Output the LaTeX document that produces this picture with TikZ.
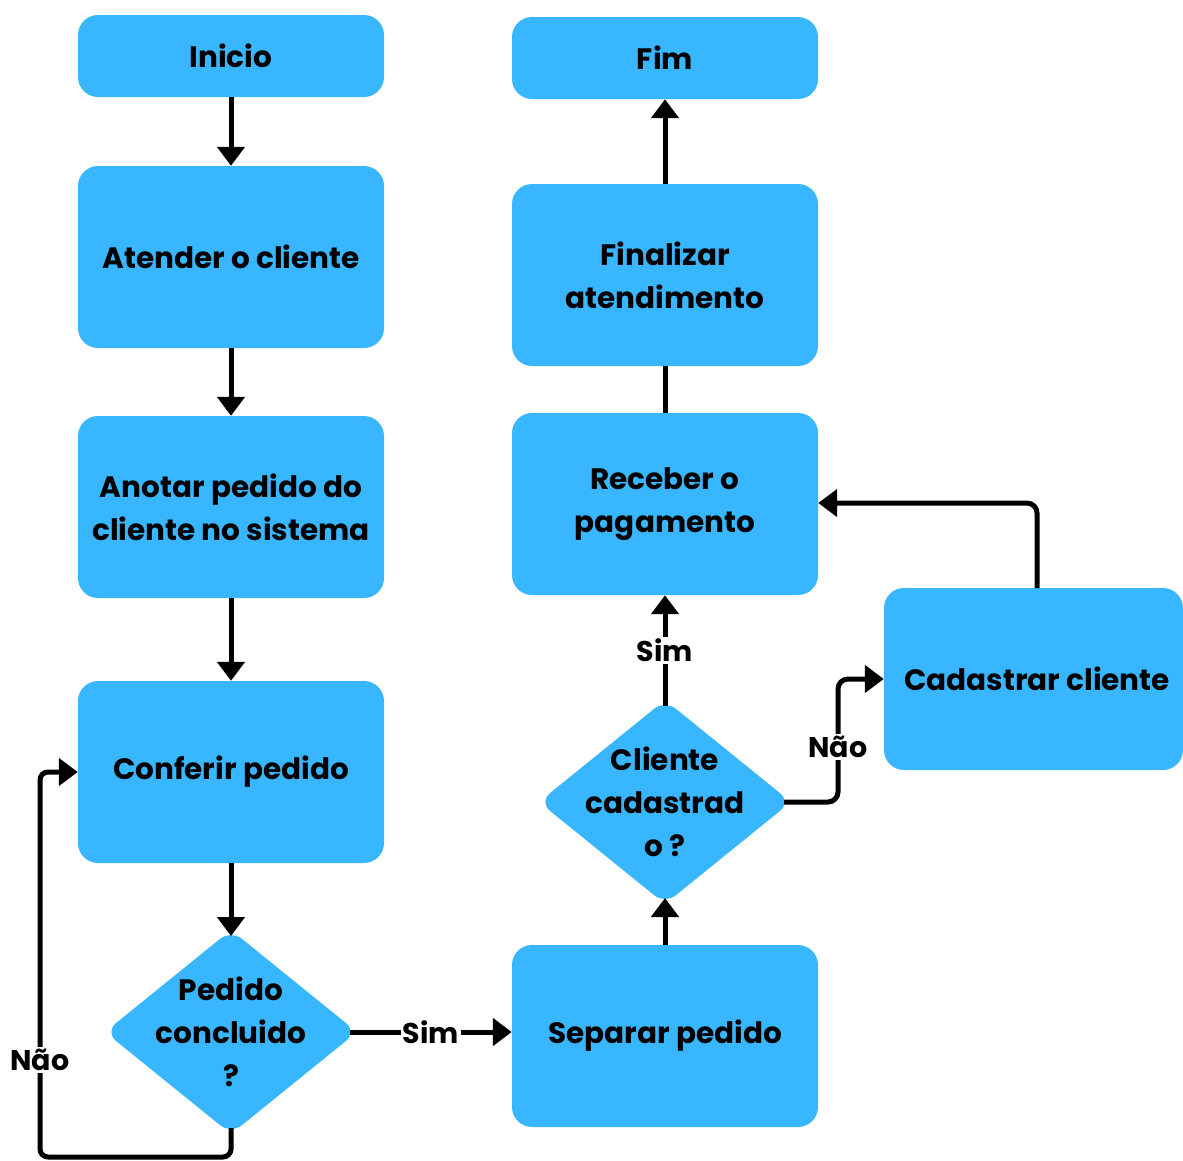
\documentclass[tikz,border=0pt]{standalone}
\usepackage{fontspec}
\setmainfont{Poppins}
\usetikzlibrary{arrows.meta,shapes.geometric,calc}
\definecolor{boxblue}{HTML}{38B6FF}
\tikzset{
  stepbox/.style={rectangle, rounded corners=20pt, fill=boxblue, minimum width=306pt,
    minimum height=182pt, inner sep=0pt, align=center},
  endbox/.style={stepbox, minimum height=82pt},
  decision/.style={diamond, minimum width=238pt, minimum height=192pt, inner sep=0pt, outer sep=0pt},
  decfill/.style={fill=boxblue, rounded corners=14pt},
  txt/.style={align=center, font=\fontsize{29.5}{43}\selectfont\bfseries},
  flow/.style={line width=5pt, -{Triangle[width=27pt,length=19pt]}},
  plain/.style={line width=5pt},
  lbl/.style={fill=white, inner sep=2pt, font=\fontsize{28.5}{32}\selectfont\bfseries}
}
\newcommand{\filldecision}[1]{%
  \fill[decfill] ($(#1.north)+(0,-6)$) -- ($(#1.east)+(7,0)$) --
    ($(#1.south)+(0,6)$) -- ($(#1.west)+(-7,0)$) -- cycle;}
\begin{document}
\begin{tikzpicture}[x=1pt,y=-1pt]
\useasboundingbox (0,0) rectangle (1183,1160);

% process boxes
\node[endbox]  (inicio)   at (231,56)   {};
\node[txt] at (inicio) {Inicio};
\node[stepbox] (atender)  at (231,257)  {};
\node[txt] at (atender) {Atender o cliente};
\node[stepbox] (anotar)   at (231,507)  {};
\node[txt] at (anotar) {Anotar pedido do\\cliente no sistema};
\node[stepbox] (conferir) at (231,772)  {};
\node[txt] at (conferir) {Conferir pedido};
\node[decision] (pedido)  at (231,1032) {};
\filldecision{pedido}
\node[txt] at (pedido) {Pedido\\concluido\\?};

\node[stepbox] (separar)  at (665,1036) {};
\node[txt] at (separar) {Separar pedido};
\node[decision] (clcad)   at (665,802)  {};
\filldecision{clcad}
\node[txt] at (clcad) {Cliente\\cadastrad\\o ?};
\node[stepbox, minimum width=299pt] (cadastrar) at (1033.5,679) {};
\node[txt] at (1037,679) {Cadastrar cliente};
\node[stepbox] (receber)  at (665,504)  {};
\node[txt] at (receber) {Receber o\\pagamento};
\node[stepbox] (finalizar) at (665,275) {};
\node[txt] at (finalizar) {Finalizar\\atendimento};
\node[endbox]  (fim)      at (665,58)   {};
\node[txt] at (fim) {Fim};

% main sequence
\draw[flow] (inicio.south) -- (atender.north);
\draw[flow] (atender.south) -- (anotar.north);
\draw[flow] (anotar.south) -- (conferir.north);
\draw[flow] (conferir.south) -- (pedido.north);
\draw[flow] (pedido.east) -- node[lbl]{Sim} (separar.west |- pedido.east);

% loop back when the order is not complete
\coordinate (loopA) at (231,1157);
\coordinate (loopB) at (40,1157);
\coordinate (loopC) at (40,772);
\draw[flow, rounded corners=8pt] (pedido.south) -- (loopA) -- (loopB) -- (loopC) -- (conferir.west);
\node[lbl] at (40,1060) {Não};

\draw[flow] (separar.north) -- (clcad.south);
\draw[flow] (clcad.north) -- node[lbl, pos=0.5]{Sim} (receber.south);

% register a new client
\coordinate (nA) at (838,802);
\coordinate (nB) at (838,679);
\draw[flow, rounded corners=10pt] (clcad.east) -- (nA) -- (nB) -- (cadastrar.west);
\node[lbl] at (838,747) {Não};

\coordinate (cA) at (1037,588);
\coordinate (cB) at (1037,503);
\draw[flow, rounded corners=10pt] (cA) -- (cB) -- (receber.east |- cB);

\draw[plain] (receber.north) -- (finalizar.south);
\draw[flow] (finalizar.north) -- (fim.south);
\end{tikzpicture}
\end{document}
